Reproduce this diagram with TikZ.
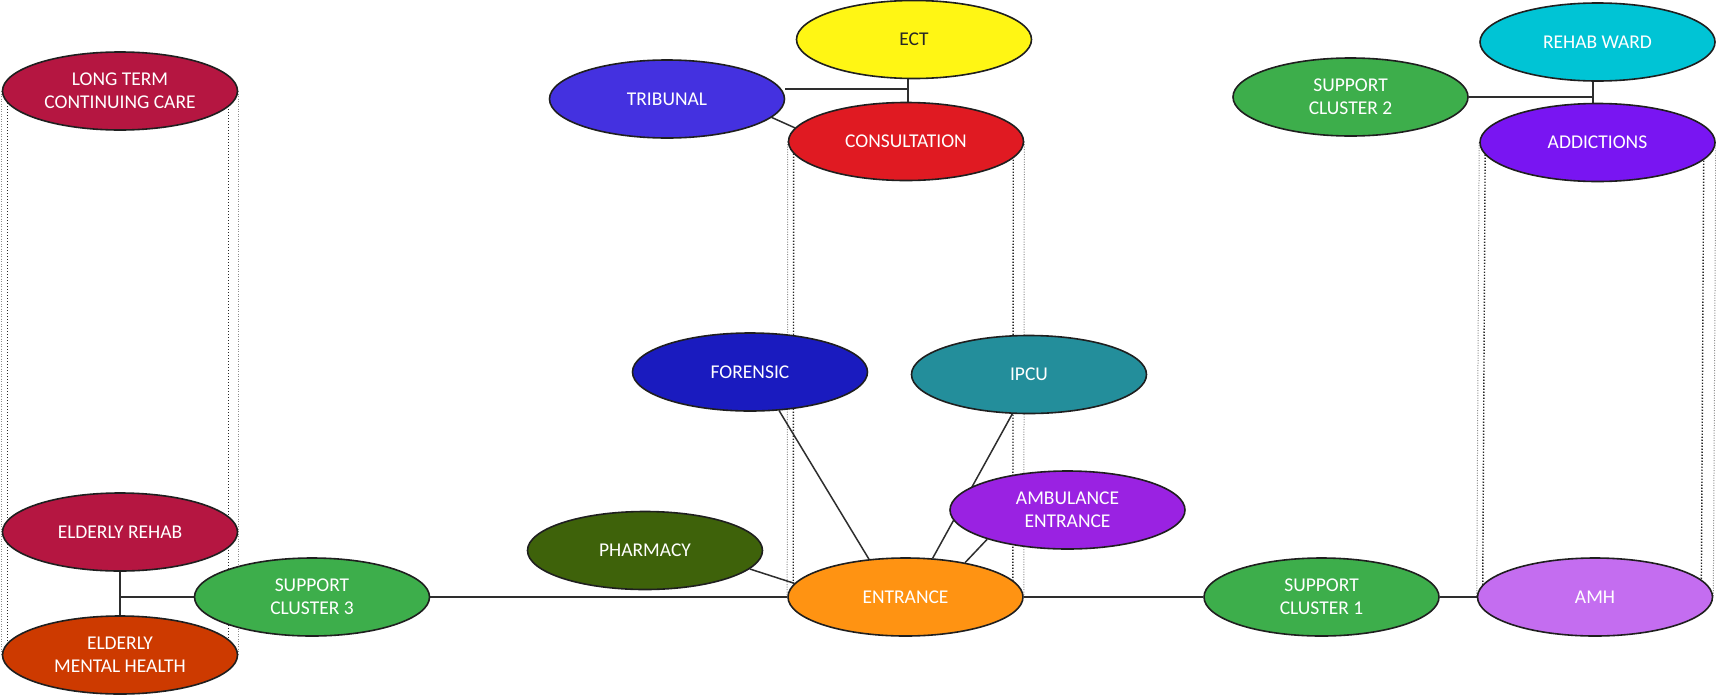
\documentclass[tikz,border=0pt]{standalone}
\usepackage{fontspec}
\setmainfont{Carlito}
\usetikzlibrary{shapes.geometric,backgrounds,calc}
\definecolor{cLT}{HTML}{B51641}
\definecolor{cEMH}{HTML}{CD3A00}
\definecolor{cSC}{HTML}{3DAE4B}
\definecolor{cTRI}{HTML}{4431E0}
\definecolor{cECT}{HTML}{FFF614}
\definecolor{cCON}{HTML}{E01A22}
\definecolor{cFOR}{HTML}{1A1BBF}
\definecolor{cIPCU}{HTML}{238E9B}
\definecolor{cAMB}{HTML}{9A22E2}
\definecolor{cPH}{HTML}{3E620A}
\definecolor{cENT}{HTML}{FF9312}
\definecolor{cAMH}{HTML}{C46DF0}
\definecolor{cRW}{HTML}{00C4D5}
\definecolor{cADD}{HTML}{7915F2}
\begin{document}
\begin{tikzpicture}[x=1pt,y=-1pt,
  unit/.style={ellipse, draw=black!88, line width=1.6pt, minimum width=235pt, minimum height=78pt,
    inner sep=0pt, text=white, font=\fontsize{19.5}{23}\selectfont, align=center},
  link/.style={draw=black!82, line width=1.5pt},
  dotdark/.style={draw=black!85, line width=1.4pt, dash pattern=on 1.4pt off 1.6pt},
  dotlight/.style={draw=black!45, line width=1pt, dash pattern=on 1pt off 1.5pt}]
\useasboundingbox (0,0) rectangle (1716,694);

\node[unit, fill=cLT] (ltcc) at (120,91) {LONG TERM\\CONTINUING CARE};
\node[unit, fill=cLT] (erehab) at (120,532) {ELDERLY REHAB};
\node[unit, fill=cEMH] (emh) at (120,655) {ELDERLY\\MENTAL HEALTH};
\node[unit, fill=cSC] (sc3) at (312,597) {SUPPORT\\CLUSTER 3};
\node[unit, fill=cTRI] (trib) at (667,99) {TRIBUNAL};
\node[unit, fill=cECT, text=black!85] (ect) at (914,39.5) {ECT};
\node[unit, fill=cCON] (cons) at (906,141.5) {CONSULTATION};
\node[unit, fill=cFOR] (for) at (750,372) {FORENSIC};
\node[unit, fill=cIPCU] (ipcu) at (1029,374.5) {IPCU};
\node[unit, fill=cAMB] (amb) at (1067.5,510) {AMBULANCE\\ENTRANCE};
\node[unit, fill=cPH] (pharm) at (645,550.5) {PHARMACY};
\node[unit, fill=cENT] (ent) at (905.5,597) {ENTRANCE};
\node[unit, fill=cSC] (sc1) at (1321.5,597) {SUPPORT\\CLUSTER 1};
\node[unit, fill=cAMH] (amh) at (1595,597) {AMH};
\node[unit, fill=cSC] (sc2) at (1350.5,97) {SUPPORT\\CLUSTER 2};
\node[unit, fill=cRW] (rw) at (1597.5,42) {REHAB WARD};
\node[unit, fill=cADD] (add) at (1597.5,142.5) {ADDICTIONS};

\coordinate (j1) at (119,597);
\coordinate (j2) at (908,89);
\coordinate (j3) at (1593,97);

\begin{scope}[on background layer]
  \fill[white] (0,0) rectangle (1716,694);
  % dotted cylinder sides
  \draw[dotlight] (ltcc.west) -- (emh.west);
  \draw[dotlight] (ltcc.east) -- (emh.east);
  \draw[dotdark] ([xshift=6pt]ltcc.west) -- ([xshift=6pt]emh.west);
  \draw[dotdark] ([xshift=-10pt]ltcc.east) -- ([xshift=-10pt]emh.east);
  \draw[dotlight] (cons.west) -- (ent.west);
  \draw[dotlight] (cons.east) -- (ent.east);
  \draw[dotdark] ([xshift=6pt]cons.west) -- ([xshift=6pt]ent.west);
  \draw[dotdark] ([xshift=-11pt]cons.east) -- ([xshift=-11pt]ent.east);
  \draw[dotlight] (add.west) -- (amh.west);
  \draw[dotlight] (add.east) -- (amh.east);
  \draw[dotdark] ([xshift=6pt]add.west) -- ([xshift=6pt]amh.west);
  \draw[dotdark] ([xshift=-12pt]add.east) -- ([xshift=-12pt]amh.east);
  % connectors
  \draw[link] (erehab) -- (emh);
  \draw[link] (j1) -- (sc3);
  \draw[link] (sc3) -- (ent);
  \draw[link] (ent) -- (sc1);
  \draw[link] (sc1) -- (amh);
  \draw[link] (j2 |- ect.south) -- (j2 |- cons.north);
  \draw[link] (trib.east |- j2) -- (j2);
  \draw[link] (trib.-10) -- (cons.173);
  \draw[link] (j3 |- rw.south) -- (j3 |- add.north);
  \draw[link] (sc2) -- (j3);
  \draw[link] (pharm.-10) -- (ent.173);
  \draw[link] (for.-53) -- (ent.134);
  \draw[link] (ipcu.247) -- (ent.55);
  \draw[link] (amb.200) -- (ent.30);
\end{scope}
\end{tikzpicture}
\end{document}
